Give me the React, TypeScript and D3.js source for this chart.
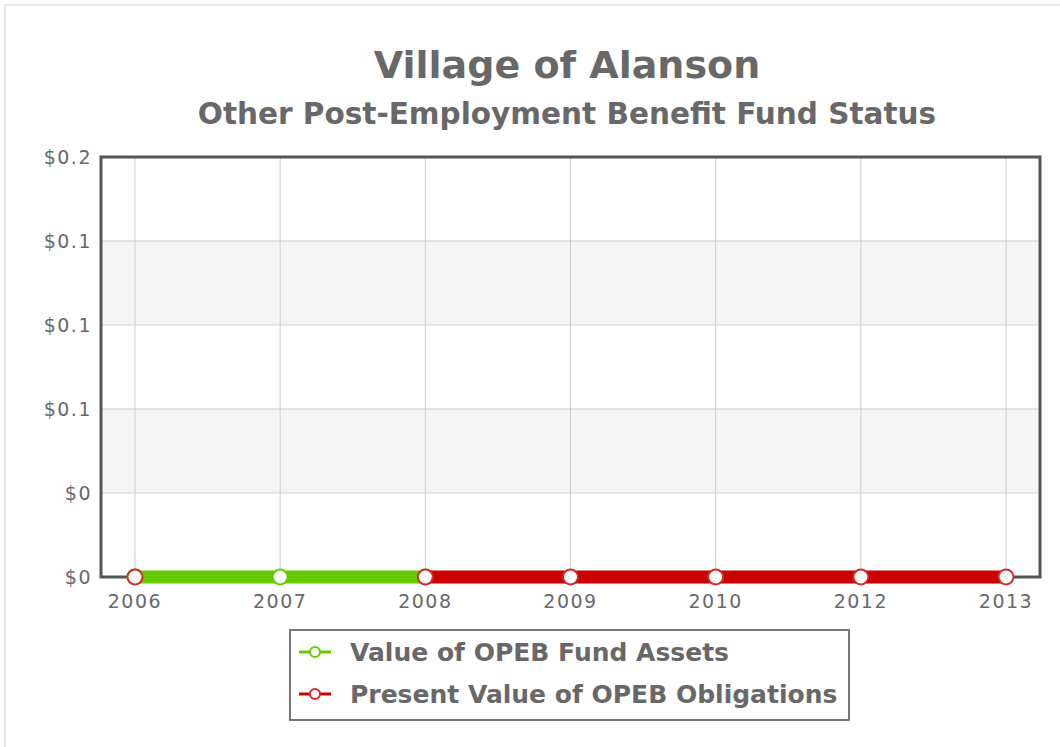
import * as d3 from 'd3';

const years = ['2006', '2007', '2008', '2009', '2010', '2012', '2013'];
const fundAssets: (number | null)[] = [0, 0, 0, null, null, null, null];
const obligations: (number | null)[] = [0, null, 0, 0, 0, 0, 0];
const yTicks = [0, 0.04, 0.08, 0.12, 0.16, 0.2];
const yTickLabels = ['$0', '$0', '$0.1', '$0.1', '$0.1', '$0.2'];

const seriesList = [
  { name: 'Value of OPEB Fund Assets', values: fundAssets, color: '#66cc00', marker: '#66cc00' },
  { name: 'Present Value of OPEB Obligations', values: obligations, color: '#cc0000', marker: '#d42a2a' },
];

const W = 1060;
const H = 747;
const plot = { left: 101, top: 157, right: 1040, bottom: 577 };
const font = '"DejaVu Sans", Verdana, sans-serif';
const textColor = '#686868';

export default function App() {
  const x = d3.scalePoint<string>().domain(years).range([plot.left, plot.right]).padding(0.234);
  const y = d3.scaleLinear().domain([0, 0.2]).range([plot.bottom, plot.top]);

  const line = d3
    .line<number | null>()
    .defined(d => d !== null)
    .x((_, i) => x(years[i]) as number)
    .y(d => y(d as number));

  return (
    <svg width={W} height={H} style={{ position: 'absolute', left: 0, top: 0, background: '#fff' }}>
      {/* outer frame */}
      <rect x={5} y={5} width={W + 10} height={H + 10} fill="#fff" stroke="#e6e6e6" strokeWidth={2} />

      {/* titles */}
      <text x={567} y={78} textAnchor="middle" fontFamily={font} fontWeight="bold" fontSize={38} fill={textColor}>
        Village of Alanson
      </text>
      <text x={567} y={124} textAnchor="middle" fontFamily={font} fontWeight="bold" fontSize={29.5} fill={textColor}>
        Other Post-Employment Benefit Fund Status
      </text>

      {/* alternating bands */}
      {yTicks.slice(0, -1).map((t, i) =>
        i % 2 === 1 ? (
          <rect key={'band' + i} x={plot.left} width={plot.right - plot.left}
            y={y(yTicks[i + 1])} height={y(t) - y(yTicks[i + 1])} fill="#f5f5f5" />
        ) : null
      )}

      {/* grid */}
      {yTicks.map((t, i) => (
        <line key={'hy' + i} x1={plot.left} x2={plot.right} y1={y(t)} y2={y(t)} stroke="#cccccc" strokeWidth={1} />
      ))}
      {years.map(yr => (
        <line key={'vx' + yr} x1={x(yr)} x2={x(yr)} y1={plot.top} y2={plot.bottom} stroke="#cccccc" strokeWidth={1} />
      ))}

      {/* plot border */}
      <rect x={plot.left} y={plot.top} width={plot.right - plot.left} height={plot.bottom - plot.top}
        fill="none" stroke="#555555" strokeWidth={3} />

      {/* y labels */}
      {yTicks.map((t, i) => (
        <text key={'yl' + i} x={92} y={y(t)} dy="0.36em" textAnchor="end" fontFamily={font}
          fontSize={19} letterSpacing={1.5} fill={textColor}>
          {yTickLabels[i]}
        </text>
      ))}

      {/* x labels */}
      {years.map(yr => (
        <text key={'xl' + yr} x={x(yr)} y={608} textAnchor="middle" fontFamily={font}
          fontSize={19} letterSpacing={1.5} fill={textColor}>
          {yr}
        </text>
      ))}

      {/* series */}
      {seriesList.map(s => (
        <g key={s.name}>
          <path d={line(s.values) || ''} fill="none" stroke={s.color} strokeWidth={13} />
          {s.values.map((v, i) =>
            v === null ? null : (
              <circle key={i} cx={x(years[i])} cy={y(v)} r={7.5} fill="#fff" stroke={s.marker} strokeWidth={2} />
            )
          )}
        </g>
      ))}

      {/* legend */}
      <rect x={290} y={630} width={559} height={90} fill="#fff" stroke="#777777" strokeWidth={2} />
      {seriesList.map((s, i) => {
        const cy = 652 + i * 42;
        return (
          <g key={'lg' + s.name}>
            <line x1={299} x2={331} y1={cy} y2={cy} stroke={s.color} strokeWidth={3} />
            <circle cx={315} cy={cy} r={5} fill="#fff" stroke={s.marker} strokeWidth={2} />
            <text x={350} y={cy} dy="0.36em" fontFamily={font} fontWeight="bold" fontSize={25} fill={textColor}>
              {s.name}
            </text>
          </g>
        );
      })}
    </svg>
  );
}
